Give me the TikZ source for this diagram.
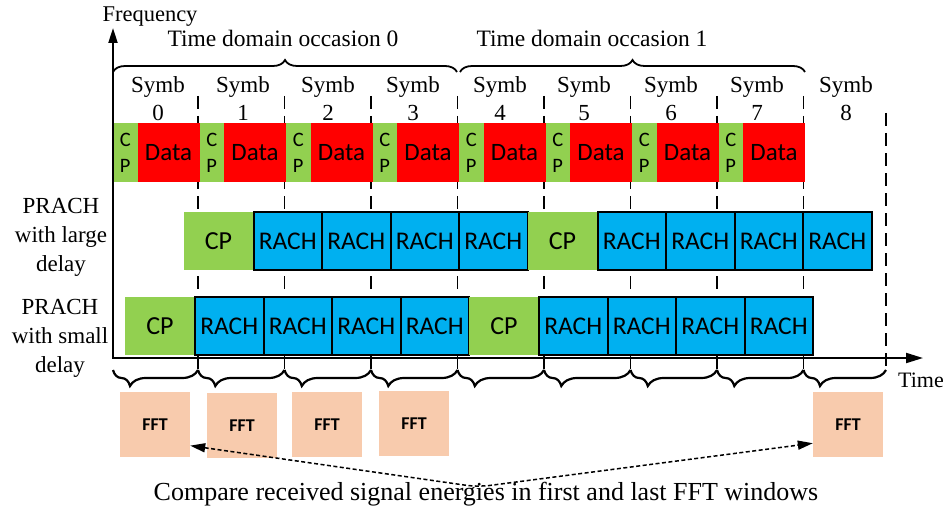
\documentclass[tikz,border=0pt]{standalone}
\usepackage{fontspec}
\setmainfont{Liberation Serif}
\newfontfamily\calibfont{Carlito}
\usetikzlibrary{decorations.pathreplacing,arrows.meta}
\definecolor{cpgreen}{HTML}{92D050}
\definecolor{datared}{HTML}{FF0000}
\definecolor{rachblue}{HTML}{00B0F0}
\definecolor{fftpeach}{HTML}{F8CBAD}

\begin{document}
\begin{tikzpicture}[x=1pt,y=-1pt,
  block/.style={anchor=north west, inner sep=0pt, outer sep=0pt},
  cpsym/.style={block, fill=cpgreen, minimum width=24.5pt, minimum height=59pt,
    align=center, font=\calibfont\fontsize{20.5}{26}\selectfont},
  datasym/.style={block, fill=datared, minimum width=62pt, minimum height=59pt,
    font=\calibfont\fontsize{25}{28}\selectfont},
  cpre/.style={block, fill=cpgreen, minimum width=70pt, minimum height=58pt,
    font=\calibfont\fontsize{26}{28}\selectfont},
  rach/.style={block, fill=rachblue, draw=black, line width=2pt,
    minimum width=68.5pt, minimum height=58pt,
    font=\calibfont\fontsize{25.5}{28}\selectfont},
  fftbox/.style={fill=fftpeach, inner sep=0pt, minimum width=70pt, minimum height=65pt,
    font=\calibfont\bfseries\fontsize{18}{20}\selectfont},
  lbl/.style={align=center, font=\fontsize{23}{29}\selectfont},
  bound/.style={line width=1.5pt, dash pattern=on 13pt off 7pt},
  topbrace/.style={line width=1.8pt, decorate, decoration={brace, amplitude=12pt}},
  botbrace/.style={line width=2.2pt, decorate,
    decoration={brace, mirror, amplitude=16pt, aspect=0.2}},
  axisline/.style={line width=2pt},
  cmparrow/.style={line width=1.5pt, dash pattern=on 4pt off 2.5pt, rounded corners=12pt,
    {Triangle[length=15pt,width=9pt]}-{Triangle[length=15pt,width=9pt]}}
]
\useasboundingbox (0,0) rectangle (947,508);

% symbol boundaries
\foreach \k in {1,...,8}
  \draw[bound] (111.5+86.5*\k,96) -- (111.5+86.5*\k,370);
\draw[bound] (886,113) -- (886,370);

% OFDM symbols: cyclic prefix and data
\foreach \k in {0,...,7}{
  \pgfmathsetmacro\sx{113+86.5*\k}
  \node[cpsym] (dcp\k) at (\sx,123) {C\\P};
  \node[datasym] (dat\k) at (\sx+24.5,123) {Data};
}

% symbol labels
\foreach \k/\cx in {0/158,1/243,2/328,3/413,4/500,5/584,6/671,7/757,8/846}
  \node[lbl, font=\fontsize{23}{28}\selectfont] (sy\k) at (\cx,99) {Symb\\\k};

% PRACH with large delay
\node[cpre] (lcp0) at (183.5,212) {CP};
\foreach \k in {0,...,3}
  \node[rach] (lra\k) at (253.5+68.5*\k,212) {RACH};
\node[cpre] (lcp1) at (527.5,212) {CP};
\foreach \k in {4,...,7}
  \node[rach] (lra\k) at (597.5+68.5*\k-274,212) {RACH};

% PRACH with small delay
\node[cpre] (scp0) at (125,297) {CP};
\foreach \k in {0,...,3}
  \node[rach] (sra\k) at (195+68.5*\k,297) {RACH};
\node[cpre] (scp1) at (469,297) {CP};
\foreach \k in {4,...,7}
  \node[rach] (sra\k) at (539+68.5*\k-274,297) {RACH};

% row labels
\node[lbl] (lrow) at (61,237) {PRACH\\with large\\delay};
\node[lbl] (srow) at (60,338) {PRACH\\with small\\delay};

% axes
\coordinate (orig) at (113,358);
\coordinate (ftip) at (113,28);
\coordinate (ttip) at (923,358);
\draw[axisline, {Triangle[length=15pt,width=9pt]}-{Triangle[length=17pt,width=10pt]}]
  (ftip) -- (orig) -- (ttip);
\node[font=\fontsize{22.5}{26}\selectfont] (freq) at (150,17) {Frequency};
\node[font=\fontsize{22}{26}\selectfont] (time) at (921,380) {Time};

% occasions
\draw[topbrace] (113,72) -- (457,72);
\draw[topbrace] (460,72) -- (805,72);
\node[font=\fontsize{23.5}{26}\selectfont] (occ0) at (283,38) {Time domain occasion 0};
\node[font=\fontsize{23.5}{26}\selectfont] (occ1) at (592,38) {Time domain occasion 1};

% FFT windows
\foreach \a/\b in {113/198,198/284.5,284.5/371,371/457.5,457.5/544,544/630.5,630.5/717,717/803.5,803.5/886}
  \draw[botbrace] (\a,370) -- (\b,370);
\node[fftbox] (fft1) at (155,424.5) {FFT};
\node[fftbox] (fft2) at (242,425.5) {FFT};
\node[fftbox] (fft3) at (327,424.5) {FFT};
\node[fftbox] (fft4) at (414,423.5) {FFT};
\node[fftbox] (fft5) at (848,424.5) {FFT};

% energy comparison
\coordinate (dip) at (478,487);
\draw[cmparrow] (fft1.-31) -- (dip) -- (fft5.208);
\node[font=\fontsize{26}{30}\selectfont] (cmp) at (486,494)
  {Compare received signal energies in first and last FFT windows};
\end{tikzpicture}
\end{document}
